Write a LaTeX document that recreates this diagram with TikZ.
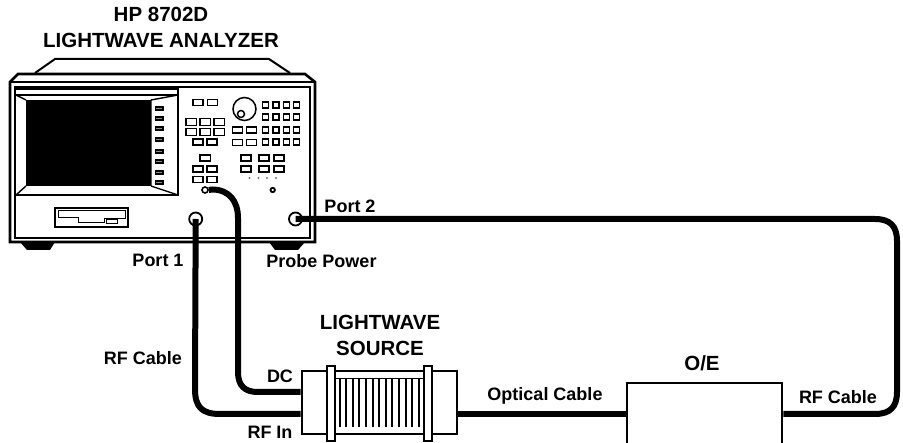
\documentclass[tikz,border=0pt]{standalone}
\usepackage{fontspec}
\setmainfont{Liberation Sans}
\newcommand{\btn}[4]{\draw[keyb] (#1,#2) rectangle ++(#3,#4);}
\tikzset{
  lbl/.style={font=\bfseries\fontsize{18}{20}\selectfont,inner sep=0pt,anchor=base},
  ttl/.style={font=\bfseries\fontsize{20.5}{26}\selectfont,inner sep=0pt,align=center},
  cablew/.style={line width=6pt,line join=round},
  keyb/.style={line width=1.7pt},
  frame/.style={line width=2pt,line join=miter},
  porth/.style={circle,draw,line width=1.8pt,minimum size=13pt,inner sep=0pt,fill=white},
  unitbox/.style={rectangle,draw,line width=2.8pt,fill=white,inner sep=0pt}
}
\begin{document}
\begin{tikzpicture}[x=1pt,y=-1pt]
\clip (0,0) rectangle (903,443);
\fill[white] (0,0) rectangle (903,443);
% analyzer body
\draw[frame,fill=white] (35,73) -- (55,59) -- (269,59) -- (290,73);
\fill (20,242) -- (27,250) -- (50,250) -- (55,242) -- cycle;
\fill (269,242) -- (275,250) -- (298,250) -- (305,242) -- cycle;
\draw[line width=2.6pt,fill=white] (10,82) -- (18,74) -- (305,74) -- (315,82) -- (315,242) -- (10,242) -- cycle;
\draw[frame] (10,82) -- (315,82);
\draw[frame] (15,87) rectangle (310,238);
% display
\draw[line width=1.4pt] (16,89) -- (178,89) -- (178,195) -- (16,195);
\draw[line width=1.4pt] (16,95) -- (178,95);
\fill (26,100) rectangle (151,186);
\draw[line width=1.4pt] (16,95) -- (26,100) (16,195) -- (26,186) (151,100) -- (178,95) (151,186) -- (178,195) (151,100) -- (151,186);
\foreach \y in {107,117,127,138,150,160,171,181}{\draw[line width=1.2pt,fill=black!45] (155.5,\y) rectangle ++(7.5,3);}
% keys
\foreach \x in {193,207.5}{\btn{\x}{99.5}{10}{6}}
\foreach \x in {186,200,214}{\foreach \y in {118.5,128.5}{\btn{\x}{\y}{10.5}{7}}}
\foreach \x in {193,207}{\btn{\x}{139}{10}{6}}
\btn{200}{155}{10.5}{6}
\foreach \x in {193,207}{\foreach \y in {166,176.5}{\btn{\x}{\y}{10}{6}}}
\foreach \x in {262.5,273,283.5,293.5}{\foreach \y in {102,114,127,139}{\btn{\x}{\y}{6}{6}}}
\foreach \x in {232.5,246.5}{\foreach \y in {127,139.5}{\btn{\x}{\y}{10}{6}}}
\foreach \x in {241,259,274}{\foreach \y in {155,166}{\btn{\x}{\y}{10}{6}}}
\draw[line width=1.5pt] (244.5,109) circle (11.5);
\draw[line width=1.5pt] (241,114) circle (3.5);
\foreach \x in {249.5,258.5,267,276}{\fill[black!55] (\x,178) circle (1.2);}
\draw[line width=1.8pt] (272.7,190) circle (2.2);
% disk drive
\draw[frame] (55,208) rectangle (128,227);
\draw[line width=1pt] (58,211) -- (125,211) -- (125,218.5) -- (104,218.5) -- (104,223) -- (78,223) -- (78,218) -- (58,218) -- cycle;
\draw[line width=1pt] (106,220) rectangle (117,224);
% ports and cables
\node[porth] (port1) at (195.7,219) {};
\node[porth] (port2) at (295.5,219) {};
\node[circle,draw,line width=1.6pt,minimum size=6pt,inner sep=0pt,fill=white] (probe) at (205,190) {};
\node[unitbox,minimum width=155pt,minimum height=63pt] (source) at (379.5,402.5) {};
\node[unitbox,minimum width=155pt,minimum height=84pt] (oe) at (704.5,425) {};
\coordinate (sdc) at (source.west |- 0,392);
\coordinate (srf) at (source.west |- 0,414);
\coordinate (sopt) at (source.east |- 0,414);
\coordinate (oein) at (oe.west |- 0,414);
\coordinate (oeout) at (oe.east |- 0,414);
\draw[cablew] (port1.center) -- (195,389) .. controls (195,407) and (202,414) .. (220,414) -- (srf);
\draw[cablew] (probe.east) -- (212,189.5) .. controls (229,189.5) and (238,201) .. (238,218) -- (238,372) .. controls (238,386) and (245,392) .. (258,392) -- (sdc);
\draw[cablew] (sopt) -- (oein);
\draw[cablew] (port2.center) -- (875,219) .. controls (890,219) and (897,226) .. (897,241) -- (897,392) .. controls (897,407) and (890,414) .. (875,414) -- (oeout);
% source details
\draw[line width=1.2pt] (335,378.5) -- (424,378.5);
\foreach \i in {0,...,12}{\draw[line width=2pt] ({339.5+6.6*\i},379) -- ({339.5+6.6*\i},427);}
\foreach \x in {327,424}{\draw[line width=2.4pt,fill=white] (\x,366) rectangle ++(8,75);}
% labels
\node[ttl] (t1) at (161,27) {HP 8702D\\LIGHTWAVE ANALYZER};
\node[lbl] (l1) at (158,267) {Port 1};
\node[lbl] (l2) at (350,213) {Port 2};
\node[lbl] (l3) at (321.5,268) {Probe Power};
\node[lbl] (l4) at (143,365) {RF Cable};
\node[ttl] (t2) at (380,335) {LIGHTWAVE\\SOURCE};
\node[lbl] (l5) at (280,383) {DC};
\node[lbl] (l6) at (270,439) {RF In};
\node[lbl] (l7) at (545,401) {Optical Cable};
\node[ttl] (t3) at (702,363) {O/E};
\node[lbl] (l8) at (838,404) {RF Cable};
\end{tikzpicture}
\end{document}
